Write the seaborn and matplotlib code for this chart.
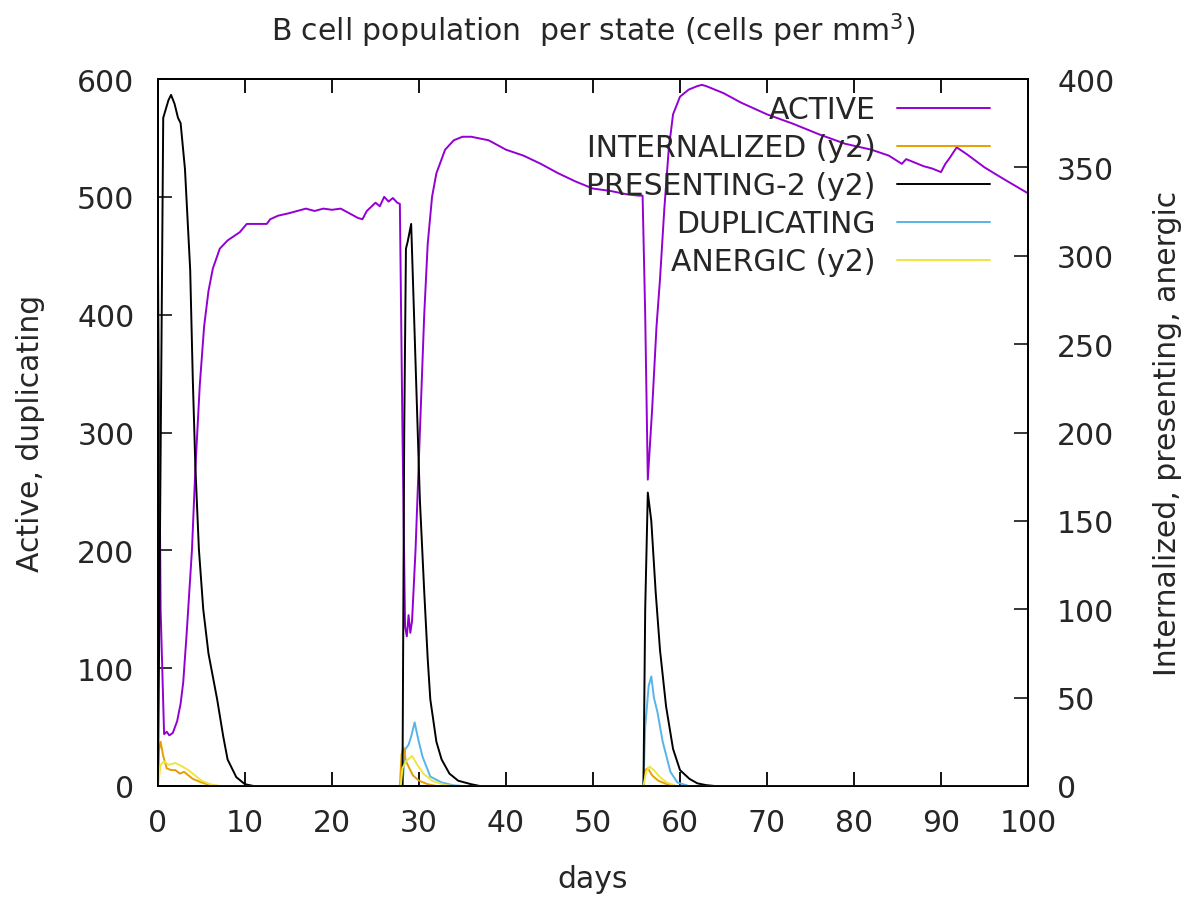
import matplotlib
matplotlib.use("Agg")
import matplotlib.pyplot as plt
import seaborn as sns
import pandas as pd

# ---------------- data ----------------
active_days = [0, 0.3, 0.7, 1.0, 1.3, 1.7, 2.2, 2.6, 2.9, 3.3, 3.9, 4.3, 4.8, 5.3, 5.8, 6.3,
               7.1, 8.0, 9.4, 10.2, 11.5, 12.5, 12.9, 13.8, 15, 16, 17, 18, 19, 20, 21, 22,
               23, 23.5, 24, 25, 25.5, 26, 26.5, 27, 27.5, 27.8, 28.1, 28.4, 28.6, 28.8, 29.0,
               29.2, 29.6, 30.1, 30.6, 31.0, 31.5, 32, 33, 34, 35, 36, 38, 40, 42, 44, 46, 48,
               50, 52, 54, 55.3, 55.7, 56.0, 56.3, 56.8, 57.3, 57.7, 58.2, 58.7, 59.2, 60, 61,
               62, 62.5, 63, 65, 67, 70, 73, 76, 79, 82, 84, 85.5, 86, 88, 89, 90, 90.5, 91,
               91.8, 93, 95, 97, 100]
active_vals = [445, 150, 44, 46, 43, 45, 55, 70, 88, 130, 200, 270, 340, 390, 420, 439,
               456, 463, 470, 477, 477, 477, 481, 484, 486, 488, 490, 488, 490, 489, 490, 486,
               482, 481, 488, 495, 492, 500, 496, 499, 495, 494, 300, 135, 127, 145, 130,
               140, 200, 300, 400, 460, 500, 520, 540, 548, 551, 551, 548, 540, 535, 528, 520, 513,
               507, 505, 502, 501, 501, 400, 260, 320, 390, 430, 490, 540, 570, 585, 591,
               594, 595, 594, 588, 580, 570, 562, 553, 545, 540, 535, 528, 532, 526, 524, 521, 528, 533,
               542, 536, 525, 516, 503]

internal_days = [0, 0.1, 0.3, 0.6, 1.0, 1.5, 2.0, 2.5, 3.0, 3.5, 4.0, 5, 6, 7, 27.8, 28.0,
                 28.2, 28.5, 28.9, 29.3, 30, 31, 32, 55.8, 56.0, 56.3, 56.8, 57.5, 58.5, 59.5, 100]
internal_vals = [0, 20, 25, 17, 10, 9, 9, 7, 8, 6, 4, 2, 0.5, 0, 0, 18,
                 22, 14, 10, 6, 3, 1, 0, 0, 9, 10, 6, 3, 1, 0, 0]

present_days = [0, 0.4, 0.6, 0.9, 1.2, 1.5, 1.9, 2.3, 2.6, 3.1, 3.7, 4.0, 4.3, 4.7, 5.2, 5.8,
                6.8, 7.5, 8.0, 9.0, 10, 11, 28.1, 28.3, 28.5, 28.7, 29.1, 29.6, 30.1, 30.6,
                31.0, 31.3, 32.0, 32.6, 33.5, 34.5, 36, 37, 55.8, 56.0, 56.3, 56.7, 57.2, 57.7,
                58.4, 59.2, 60, 61.1, 62, 63, 64, 100]
present_vals = [0, 250, 378, 383, 388, 391, 386, 378, 375, 349, 292, 230, 180, 134, 100, 75,
                49, 28, 15, 5, 1, 0, 0, 200, 304, 308, 318, 240, 162, 110,
                72, 49, 25, 15, 7, 3, 1, 0, 0, 100, 166, 150, 110, 77,
                45, 21, 9, 4, 1.5, 0.5, 0, 0]

dup_days = [0, 28.1, 28.4, 28.8, 29.1, 29.5, 29.9, 30.4, 31.3, 32.6, 34, 35, 55.8, 56.0,
            56.4, 56.7, 57.0, 57.4, 58.0, 58.9, 59.7, 61, 100]
dup_vals = [0, 0, 31, 35, 42, 54, 40, 25, 8, 3, 0.5, 0, 0, 50,
            85, 93, 75, 63, 38, 12, 3, 0, 0]

anergic_days = [0, 0.3, 0.7, 1.2, 2.0, 2.8, 3.5, 4.0, 5, 6, 7, 27.9, 28.1, 28.5, 29.2, 29.8,
                30.5, 31.5, 33, 34, 55.8, 56.1, 56.5, 57, 57.7, 58.5, 59.5, 100]
anergic_vals = [0, 12, 14, 12, 13, 11, 9, 7, 3, 1, 0, 0, 10, 14, 17, 12,
                7, 3, 0.5, 0, 0, 8, 11, 9, 5, 2, 0, 0]

x_ticks = [0, 10, 20, 30, 40, 50, 60, 70, 80, 90, 100]
y1_ticks = [0, 100, 200, 300, 400, 500, 600]
y2_ticks = [0, 50, 100, 150, 200, 250, 300, 350, 400]

# ---------------- styling ----------------
sns.set_theme(style="white")
plt.rcParams['font.family'] = ['DejaVu Sans']
FS = 21.5
TXT = "#262626"
C_ACTIVE = "#9400d3"
C_INT = "#e69f00"
C_PRES = "#000000"
C_DUP = "#56b4e9"
C_ANERG = "#f0e442"

fig = plt.figure(figsize=(11.89, 9.03), dpi=100)
ax = fig.add_axes([158/1189, 1 - 787/903, (1028-158)/1189, (787-80)/903])
ax2 = ax.twinx()

def draw(a, days, vals, color, label):
    df = pd.DataFrame({"days": days, "v": vals})
    sns.lineplot(data=df, x="days", y="v", ax=a, color=color, lw=1.4,
                 estimator=None, sort=False, label=label, legend=False)

draw(ax, active_days, active_vals, C_ACTIVE, "ACTIVE")
draw(ax2, internal_days, internal_vals, C_INT, "INTERNALIZED (y2)")
draw(ax2, present_days, present_vals, C_PRES, "PRESENTING-2 (y2)")
draw(ax, dup_days, dup_vals, C_DUP, "DUPLICATING")
draw(ax2, anergic_days, anergic_vals, C_ANERG, "ANERGIC (y2)")

ax.set_xlim(0, 100)
ax.set_ylim(0, 600)
ax2.set_ylim(0, 400)
ax.set_xticks(x_ticks)
ax.set_yticks(y1_ticks)
ax2.set_yticks(y2_ticks)

for a in (ax, ax2):
    for s in a.spines.values():
        s.set_color("black")
        s.set_linewidth(1.3)
ax.tick_params(axis="x", direction="in", length=10, width=1.3, top=True, bottom=True,
               labelsize=FS, pad=16, colors="black", labelcolor=TXT)
ax.tick_params(axis="y", direction="in", length=10, width=1.3, left=True, right=False,
               labelsize=FS, pad=17, labelcolor=TXT)
ax2.tick_params(axis="y", direction="in", length=10, width=1.3, right=True, left=False,
                labelsize=FS, pad=21, labelcolor=TXT)

ax.set_xlabel("days", fontsize=FS, labelpad=19, color=TXT)
ax.set_ylabel("Active, duplicating", fontsize=FS, labelpad=23, color=TXT)
ax2.set_ylabel("Internalized, presenting, anergic", fontsize=FS, labelpad=28, color=TXT)
ax.set_title("B cell population  per state (cells per mm$^3$)", fontsize=FS, pad=28,
             color=TXT)
ax.grid(False)
ax2.grid(False)

# legend: gather all handles in the gnuplot order
h1, l1 = ax.get_legend_handles_labels()
h2, l2 = ax2.get_legend_handles_labels()
hmap = dict(zip(l1 + l2, h1 + h2))
order = ["ACTIVE", "INTERNALIZED (y2)", "PRESENTING-2 (y2)", "DUPLICATING", "ANERGIC (y2)"]
leg = ax2.legend([hmap[o] for o in order], order, loc="upper right",
                 bbox_to_anchor=(0.956, 0.977), frameon=False, markerfirst=False,
                 fontsize=FS, handlelength=3.1, handletextpad=0.72, labelspacing=0.3,
                 borderpad=0, borderaxespad=0)
for t in leg.get_texts():
    t.set_color(TXT)

fig.savefig("out.png", dpi=100)
